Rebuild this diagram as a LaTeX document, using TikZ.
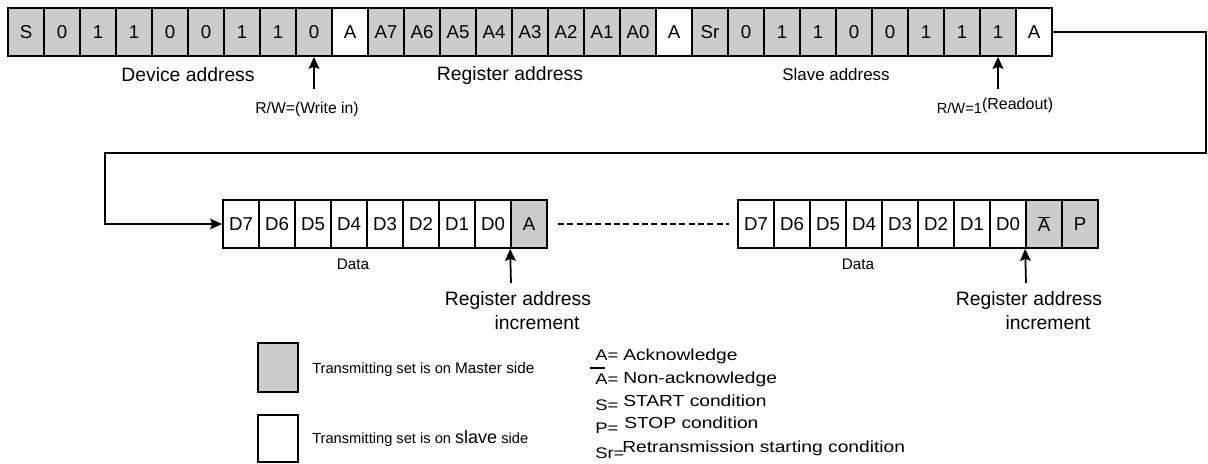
\documentclass[tikz,border=0pt]{standalone}
\usepackage{fontspec}
\setmainfont{Liberation Sans}
\newfontfamily\widesans[FakeStretch=1.2]{Liberation Sans}
\usetikzlibrary{arrows.meta}
\definecolor{mfill}{gray}{0.8}
\definecolor{sfill}{gray}{1}
\begin{document}
\begin{tikzpicture}[x=0.75pt,y=-0.75pt,
  cell/.style={draw=black, line width=1.3pt, minimum width=27pt, minimum height=36pt, inner sep=0pt, font=\fontsize{14}{16}\selectfont},
  conn/.style={line width=1.3pt},
  tip/.style={-{Stealth[length=9pt,width=8pt,inset=1.5pt]}},
  lbl/.style={inner sep=0pt, anchor=base},
  lgbox/.style={draw=black, line width=1.4pt, minimum width=30pt, inner sep=0pt},
  lgtxt/.style={inner sep=0pt, anchor=base west, font=\widesans\fontsize{12}{14}\selectfont},
  lgkey/.style={inner sep=0pt, anchor=base west, font=\widesans\fontsize{11.5}{13}\selectfont}
]
\useasboundingbox (0,0) rectangle (1208,464);

% top row
\foreach \t/\c [count=\i] in {S/mfill,0/mfill,1/mfill,1/mfill,0/mfill,0/mfill,1/mfill,1/mfill,0/mfill,A/sfill,A7/mfill,A6/mfill,A5/mfill,A4/mfill,A3/mfill,A2/mfill,A1/mfill,A0/mfill,A/sfill,Sr/mfill,0/mfill,1/mfill,1/mfill,0/mfill,0/mfill,1/mfill,1/mfill,1/mfill,A/sfill}
  \node[cell, fill=\c] (t\i) at ({36*\i-10},32) {\t};

% data row 1
\foreach \t/\c [count=\i] in {D7/sfill,D6/sfill,D5/sfill,D4/sfill,D3/sfill,D2/sfill,D1/sfill,D0/sfill,A/mfill}
  \node[cell, fill=\c] (d\i) at ({36*\i+205},224) {\t};

% data row 2
\foreach \t/\c [count=\i] in {D7/sfill,D6/sfill,D5/sfill,D4/sfill,D3/sfill,D2/sfill,D1/sfill,D0/sfill,{$\overline{\hbox{A}}$}/mfill,P/mfill}
  \node[cell, fill=\c] (e\i) at ({36*\i+720},224) {\t};

% connector from top row to data row
\coordinate (turnR) at (1206,153);
\coordinate (turnL) at (105,153);
\draw[conn, tip] (t29.east) -| (turnR) -- (turnL) |- (d1.west);

% dashed continuation
\draw[dash pattern=on 4.5pt off 2.5pt, line width=1pt, shorten <=7.5pt, shorten >=6pt] (d9.east) -- (e1.west);

% up arrows
\coordinate (a0) at (314,89);
\coordinate (a1) at (998,89);
\coordinate (a2) at (511,283);
\coordinate (a3) at (1026,283);
\draw[conn, tip] (a0) -- (t9.south);
\draw[conn, tip] (a1) -- (t28.south);
\draw[conn, tip] (a2) -- (d9.south west);
\draw[conn, tip] (a3) -- (e9.south west);

% labels top
\node[lbl, font=\fontsize{14.5}{16}\selectfont] (devaddr) at (188,81) {Device address};
\node[lbl, font=\fontsize{14.5}{16}\selectfont] (regaddr) at (510,80) {Register address};
\node[lbl, font=\fontsize{12.7}{14}\selectfont] (slvaddr) at (836,80) {Slave address};
\node[lbl, font=\fontsize{11.8}{13}\selectfont] (rw0) at (307,113) {R/W=(Write in)};
\node[lbl] (rw1) at (995,113) {{\fontsize{11}{12}\selectfont R/W=1}\raisebox{2.5pt}{\fontsize{12}{13}\selectfont(Readout)}};

% labels data rows
\node[lbl, font=\fontsize{11.5}{13}\selectfont] (data1) at (353,269) {Data};
\node[lbl, font=\fontsize{11.5}{13}\selectfont] (data2) at (858,269) {Data};
\node[lbl, font=\fontsize{14.5}{16}\selectfont] (inc1a) at (518,305) {Register address};
\node[lbl, font=\fontsize{14.5}{16}\selectfont] (inc1b) at (537,329) {increment};
\node[lbl, font=\fontsize{14.5}{16}\selectfont] (inc2a) at (1029,305) {Register address};
\node[lbl, font=\fontsize{14.5}{16}\selectfont] (inc2b) at (1048,329) {increment};

% legend boxes
\node[lgbox, fill=mfill, minimum height=36.75pt] (legm) at (278,367.5) {};
\node[lgbox, fill=sfill, minimum height=35.5pt] (legs) at (278,438.5) {};
\node[inner sep=0pt, anchor=base west, font=\fontsize{11}{13}\selectfont] (legmt) at (312,373) {Transmitting set is on {\fontsize{11.5}{13}\selectfont Master side}};
\node[inner sep=0pt, anchor=base west, font=\fontsize{11}{13}\selectfont] (legst) at (312,443) {Transmitting set is on {\fontsize{13.5}{15}\selectfont slave} side};

% legend abbreviations
\node[lgkey] (k1) at (595,360) {A=};
\node[lgkey] (k2) at (595,384) {A=};
\draw[line width=1.5pt] (590,368) -- (605,368);
\node[lgkey] (k3) at (595,410) {S=};
\node[lgkey] (k4) at (595,433) {P=};
\node[lgkey] (k5) at (595,458) {Sr=};
\node[lgtxt] (v1) at (623,360) {Acknowledge};
\node[lgtxt] (v2) at (623,383) {Non-acknowledge};
\node[lgtxt] (v3) at (623,406) {START condition};
\node[lgtxt] (v4) at (624,428) {STOP condition};
\node[lgtxt] (v5) at (622,452) {Retransmission starting condition};
\end{tikzpicture}
\end{document}
